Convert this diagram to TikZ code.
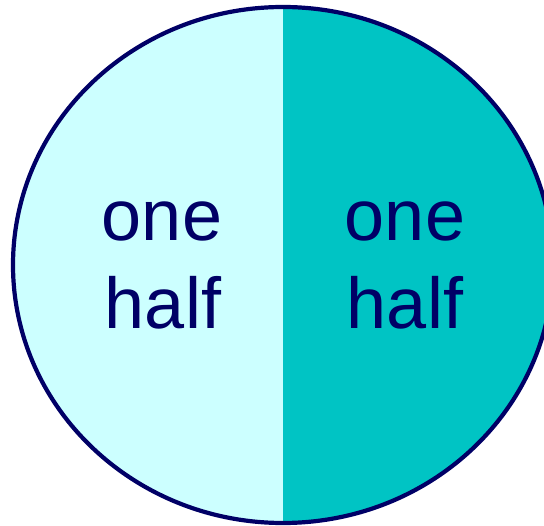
\documentclass[tikz,border=0pt]{standalone}
\usepackage{fontspec}
\setmainfont{Liberation Sans}
\definecolor{lightc}{HTML}{CCFFFF}
\definecolor{tealc}{HTML}{00C4C4}
\definecolor{navy}{HTML}{000066}
\begin{document}
\begin{tikzpicture}[x=1pt,y=-1pt,
  lbl/.style={text=navy, font=\fontsize{72}{88}\selectfont, inner sep=0pt, anchor=base},
  rim/.style={draw=navy, line width=4.2pt}]
\useasboundingbox (0,0) rectangle (544,526);
\clip (0,0) rectangle (544,526);
\begin{scope}
  \clip (0,0) rectangle (283,526);
  \fill[lightc] (283,265) ellipse [x radius=270, y radius=258];
\end{scope}
\begin{scope}
  \clip (283,0) rectangle (544,526);
  \fill[tealc] (283,265) ellipse [x radius=270, y radius=258];
\end{scope}
\path[rim] (283,265) ellipse [x radius=270, y radius=258];
\node[lbl] (l1) at (162,241) {one};
\node[lbl] (l2) at (163,329) {half};
\node[lbl] (r1) at (405,241) {one};
\node[lbl] (r2) at (405,329) {half};
\end{tikzpicture}
\end{document}
